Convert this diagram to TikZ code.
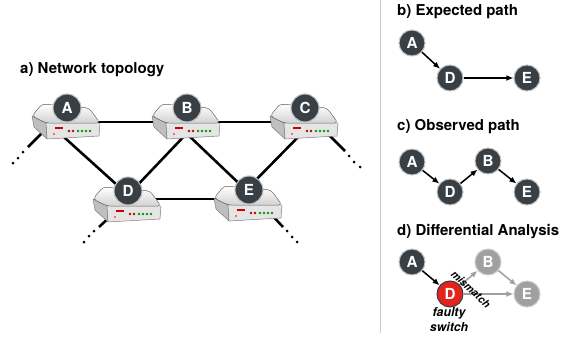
\documentclass[tikz,border=0pt]{standalone}
\usepackage{fontspec}
\setmainfont{TeX Gyre Heros}
\usetikzlibrary{arrows.meta,calc}

\definecolor{hopfill}{RGB}{56,63,69}
\definecolor{hoprim}{RGB}{190,194,197}
\definecolor{hopgray}{RGB}{160,160,160}
\definecolor{hopred}{RGB}{226,36,28}
\definecolor{swedge}{RGB}{120,120,120}

\begin{document}
\begin{tikzpicture}[x=0.03cm,y=-0.03cm,
	hop/.style={circle,fill=hopfill,draw=hoprim,line width=.9pt,text=white,inner sep=0pt,
		minimum size=0.78cm,font=\bfseries\fontsize{13}{15}\selectfont},
	hopbig/.style={hop,minimum size=0.84cm},
	hopgray/.style={hop,fill=hopgray,draw=hopgray!55!white},
	hopred/.style={hop,fill=hopred,draw=hopfill},
	link/.style={line width=2.2pt},
	flow/.style={line width=1.3pt,-{Latex[length=6pt,width=5pt]}},
	flowgray/.style={flow,draw=hopgray},
	title/.style={anchor=west,inner sep=0pt,font=\bfseries\fontsize{12.8}{15}\selectfont},
	switch/.pic={
		% side, front and top of the box
		\filldraw[draw=swedge,fill=gray!50,line width=.4pt,line join=round](-35,-6)--(-21,1)--(-20,17)--(-33,5)--cycle;
		\filldraw[draw=swedge,fill=gray!20,line width=.4pt,line join=round](-21,1)--(33,1)--(32,14)--(-20,17)--cycle;
		\filldraw[draw=swedge,top color=white,bottom color=gray!35,line width=.4pt,rounded corners=3pt](-35,-6)--(-25,-18)--(22,-14)--(33,1)--(-21,1)--cycle;
		% label and leds
		\fill[red!80!black](-12,5)rectangle(-4,6.5);
		\fill[red](-13,12)circle(.9);
		\foreach \x in {2,6} \fill[red!75!black](\x,9)circle(1.4);
		\foreach \x in {11,15,19,23} \fill[green!60!black](\x,9)circle(1.4);
	}]
	\useasboundingbox(0,0)rectangle(563,340);

	% a) network topology
	\node[title] at (20,70) {a) Network topology};
	\coordinate (A) at (67,122);
	\coordinate (B) at (187,122);
	\coordinate (C) at (305,122);
	\coordinate (D) at (128,205);
	\coordinate (E) at (249,204);
	\coordinate (Aout) at (28,147);
	\coordinate (Cout) at (345,151);
	\coordinate (Dout) at (99,227);
	\coordinate (Eout) at (283,227);

	\draw[link](A)--(B)--(C);
	\draw[link]($(D)+(0,-6)$)--($(E)+(0,-5)$);
	\draw[link]($(A)+(-12,7)$)--($(D)+(-1,-11)$);
	\draw[link]($(B)+(3,8)$)--($(D)+(2,-12)$);
	\draw[link]($(B)+(-2,10)$)--($(E)+(-1,-12)$);
	\draw[link]($(C)+(0,8)$)--($(E)+(-1,-16)$);
	\draw[link]($(A)+(-17,3)$)--(Aout);
	\draw[link]($(C)+(15,4)$)--(Cout);
	\draw[link]($(D)+(-14,8)$)--(Dout);
	\draw[link]($(E)+(20,8)$)--(Eout);
	\foreach \p in {(23,152),(18,158),(13,163),(349,156),(354,162),(360,167),
		(94,231),(89,236),(84,242),(287,231),(292,237),(297,242)}
		\fill \p circle(1.5);

	\foreach \s in {A,B,C,D,E}{
		\pic at (\s) {switch};
		\node[hopbig] (n\s) at ($(\s)+(0,-14)$) {\s};
	}

	\draw[hopgray,line width=.8pt](380,0)--(380,333);

	% b) expected path
	\node[title] at (397,12) {b) Expected path};
	\node[hop] (bA) at (412,43) {A};
	\node[hop] (bD) at (450,78) {D};
	\node[hop] (bE) at (527,78) {E};
	\draw[flow](bA)--(bD);
	\draw[flow](bD)--(bE);

	% c) observed path
	\node[title] at (397,127) {c) Observed path};
	\node[hop] (cA) at (412,162) {A};
	\node[hop] (cD) at (450,192) {D};
	\node[hop] (cB) at (488,161) {B};
	\node[hop] (cE) at (527,192) {E};
	\draw[flow](cA)--(cD);
	\draw[flow](cD)--(cB);
	\draw[flow](cB)--(cE);

	% d) differential analysis
	\node[title] at (397,232) {d) Differential Analysis};
	\node[hop] (dA) at (412,262) {A};
	\node[hopred] (dD) at (450,294) {D};
	\node[hopgray] (dB) at (488,262) {B};
	\node[hopgray] (dE) at (527,294) {E};
	\draw[flow](dA)--(dD);
	\draw[flowgray](dD)--(dB);
	\draw[flowgray](dB)--(dE);
	\draw[flowgray](dD)--(dE);
	\node[rotate=-43,inner sep=0pt,font=\bfseries\itshape\fontsize{9}{10}\selectfont] at (471,289) {mismatch};
	\node[align=center,font=\bfseries\itshape\fontsize{10.5}{12.7}\selectfont] at (449,320) {faulty\\switch};
\end{tikzpicture}
\end{document}
